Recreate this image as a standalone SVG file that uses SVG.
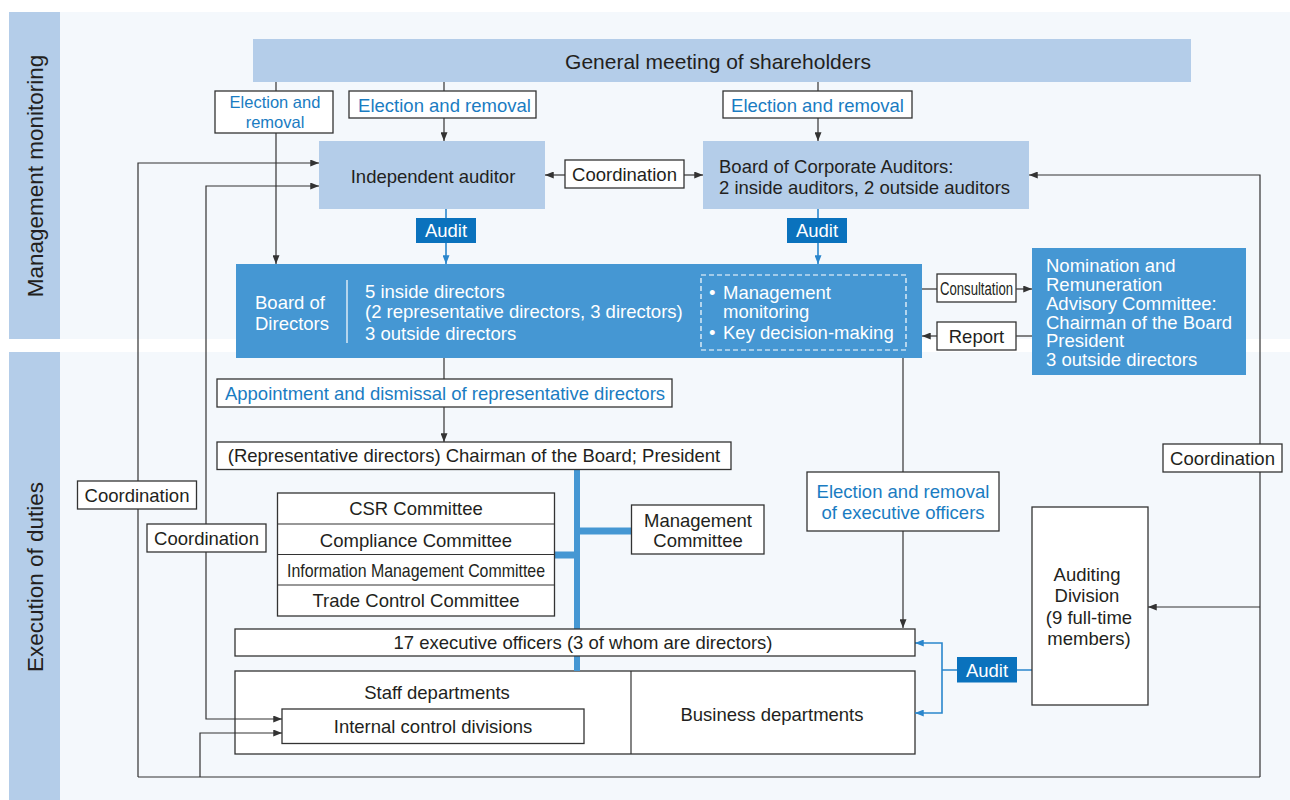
<svg xmlns="http://www.w3.org/2000/svg" width="1290" height="800" viewBox="0 0 1290 800">
<style>
text{font-family:"Liberation Sans",Arial,Helvetica,sans-serif;font-size:18.5px;fill:#231f20;dominant-baseline:central}
.c{text-anchor:middle}
.b{fill:#1a7cc2}
.w{fill:#ffffff}
.lt{fill:#b4cde9}
.md{fill:#4597d3}
.bx{fill:#ffffff;stroke:#333333;stroke-width:1.3}
.au{fill:#0a72bd}
.ln{fill:none;stroke:#333333;stroke-width:1.2}
.bl{fill:none;stroke:#2a86cc;stroke-width:1.6}
.tk{fill:none;stroke:#4597d3}
.side{font-size:22.5px}
</style>
<defs>
<marker id="ak" viewBox="0 0 10 8" refX="10" refY="4" markerWidth="9" markerHeight="7" markerUnits="userSpaceOnUse" orient="auto-start-reverse"><path d="M0,0 L10,4 L0,8 z" fill="#333333"/></marker>
<marker id="ab" viewBox="0 0 10 8" refX="10" refY="4" markerWidth="9" markerHeight="7" markerUnits="userSpaceOnUse" orient="auto-start-reverse"><path d="M0,0 L10,4 L0,8 z" fill="#2a86cc"/></marker>
</defs>
<rect x="0" y="0" width="1290" height="800" fill="#ffffff"/>
<rect x="60" y="12" width="1230" height="327" fill="#f4f8fc"/>
<rect x="60" y="352" width="1230" height="448" fill="#f4f8fc"/>
<g id="side-monitoring"><rect x="9" y="12" width="51" height="327" class="lt"/><text class="c side" transform="translate(35,176) rotate(-90)">Management monitoring</text></g>
<g id="side-execution"><rect x="9" y="352" width="51" height="448" class="lt"/><text class="c side" transform="translate(35,577) rotate(-90)">Execution of duties</text></g>

<g id="depts">
<rect x="235" y="671" width="680" height="83" class="bx"/>
<line x1="631" y1="671" x2="631" y2="754" class="ln"/>
<text class="c" x="437" y="692.5">Staff departments</text>
<text class="c" x="772" y="714">Business departments</text>
</g>
<g id="icd"><rect x="282" y="709" width="302" height="34.5" class="bx"/><text class="c" x="433" y="726">Internal control divisions</text></g>

<g id="connectors">
<path class="ln" d="M276,82 V264" marker-end="url(#ak)"/>
<path class="ln" d="M444,82 V141" marker-end="url(#ak)"/>
<path class="ln" d="M818,82 V141" marker-end="url(#ak)"/>
<path class="ln" d="M565,175 H545" marker-end="url(#ak)"/>
<path class="ln" d="M684,175 H703" marker-end="url(#ak)"/>
<path class="ln" d="M1260,777 V175 H1029" marker-end="url(#ak)"/>
<path class="ln" d="M1260,607 H1148" marker-end="url(#ak)"/>
<path class="ln" d="M138,777 H1260"/>
<path class="ln" d="M138,777 V163 H319" marker-end="url(#ak)"/>
<path class="ln" d="M282,719 H206 V186 H319" marker-start="url(#ak)" marker-end="url(#ak)"/>
<path class="ln" d="M200,777 V733 H282" marker-end="url(#ak)"/>
<path class="ln" d="M444,358 V442" marker-end="url(#ak)"/>
<path class="ln" d="M903,358 V628" marker-end="url(#ak)"/>
<path class="ln" d="M922,289 H937"/>
<path class="ln" d="M1016,289 H1032" marker-end="url(#ak)"/>
<path class="ln" d="M1032,336 H1016"/>
<path class="ln" d="M937,336 H922" marker-end="url(#ak)"/>
<path class="bl" d="M446,209 V264" marker-end="url(#ab)"/>
<path class="bl" d="M818,209 V264" marker-end="url(#ab)"/>
<path class="bl" d="M1032,670 H942"/>
<path class="bl" d="M915,643 H942 V713 H915" marker-start="url(#ab)" marker-end="url(#ab)"/>
<path class="tk" stroke-width="6" d="M577,469 V671"/>
<path class="tk" stroke-width="7" d="M577,531 H632"/>
<path class="tk" stroke-width="7" d="M554,555 H577"/>
</g>

<g id="gm"><rect x="253" y="39" width="938" height="43" class="lt"/><text class="c" x="718" y="61" style="font-size:21px">General meeting of shareholders</text></g>
<g id="lbl-er1"><rect x="215" y="91" width="118" height="42" class="bx"/><text class="c b" x="275" y="102" style="font-size:16.5px">Election and</text><text class="c b" x="275" y="121.5" style="font-size:16.5px">removal</text></g>
<g id="lbl-er2"><rect x="349" y="91" width="187" height="27" class="bx"/><text class="c b" x="444.5" y="105">Election and removal</text></g>
<g id="lbl-er3"><rect x="723" y="91" width="189" height="27" class="bx"/><text class="c b" x="817.5" y="105">Election and removal</text></g>
<g id="ia"><rect x="319" y="141" width="226" height="68" class="lt"/><text class="c" x="433" y="176">Independent auditor</text></g>
<g id="bca"><rect x="703" y="141" width="326" height="68" class="lt"/><text x="719" y="166">Board of Corporate Auditors:</text><text x="719" y="187">2 inside auditors, 2 outside auditors</text></g>
<g id="lbl-coord-top"><rect x="565" y="160" width="119" height="28" class="bx"/><text class="c" x="624.5" y="174">Coordination</text></g>
<g id="audit1"><rect x="416" y="218" width="60" height="25" class="au"/><text class="c w" x="446" y="230.5">Audit</text></g>
<g id="audit2"><rect x="787" y="218" width="60" height="25" class="au"/><text class="c w" x="817" y="230.5">Audit</text></g>
<g id="bod">
<rect x="236" y="264" width="686" height="94" class="md"/>
<text class="w" x="255" y="302">Board of</text><text class="w" x="255" y="323">Directors</text>
<line x1="347" y1="280" x2="347" y2="343" stroke="#ffffff" stroke-width="1.2"/>
<text class="w" x="365" y="291">5 inside directors</text>
<text class="w" x="365" y="311">(2 representative directors, 3 directors)</text>
<text class="w" x="365" y="333.5">3 outside directors</text>
<rect x="701" y="275" width="205" height="75" fill="none" stroke="#ffffff" stroke-width="1.2" stroke-dasharray="5 3"/>
<text class="w" x="709" y="292">•</text><text class="w" x="723" y="292">Management</text>
<text class="w" x="723" y="311">monitoring</text>
<text class="w" x="709" y="332">•</text><text class="w" x="723" y="332">Key decision-making</text>
</g>
<g id="lbl-consult"><rect x="937" y="274" width="79" height="28" class="bx"/><text class="c" x="976.5" y="288.5" textLength="73" lengthAdjust="spacingAndGlyphs" style="font-size:17.5px">Consultation</text></g>
<g id="lbl-report"><rect x="937" y="322" width="79" height="28" class="bx"/><text class="c" x="976.5" y="336.5">Report</text></g>
<g id="nrc">
<rect x="1032" y="248" width="214" height="127" class="md"/>
<text class="w" x="1046" y="265.5">Nomination and</text>
<text class="w" x="1046" y="284.5">Remuneration</text>
<text class="w" x="1046" y="303.5">Advisory Committee:</text>
<text class="w" x="1046" y="322">Chairman of the Board</text>
<text class="w" x="1046" y="340.5">President</text>
<text class="w" x="1046" y="359.5">3 outside directors</text>
</g>
<g id="lbl-appoint"><rect x="217" y="379" width="455" height="28" class="bx"/><text class="c b" x="445" y="393">Appointment and dismissal of representative directors</text></g>
<g id="chair"><rect x="217" y="442" width="514" height="27.5" class="bx"/><text class="c" x="474" y="455.5">(Representative directors) Chairman of the Board; President</text></g>
<g id="committees">
<rect x="277.5" y="493" width="277" height="123" class="bx"/>
<line x1="277.5" y1="524" x2="554.5" y2="524" class="ln"/>
<line x1="277.5" y1="554.5" x2="554.5" y2="554.5" class="ln"/>
<line x1="277.5" y1="585" x2="554.5" y2="585" class="ln"/>
<text class="c" x="416" y="508.5">CSR Committee</text>
<text class="c" x="416" y="540.5">Compliance Committee</text>
<text class="c" x="416" y="570" textLength="258" lengthAdjust="spacingAndGlyphs">Information Management Committee</text>
<text class="c" x="416" y="600.5">Trade Control Committee</text>
</g>
<g id="mgmt"><rect x="631.5" y="505" width="132.5" height="49" class="bx"/><text class="c" x="698" y="520">Management</text><text class="c" x="698" y="540">Committee</text></g>
<g id="exec"><rect x="235" y="629" width="680" height="27" class="bx"/><text class="c" x="583" y="642.5">17 executive officers (3 of whom are directors)</text></g>
<g id="lbl-coord-l1"><rect x="77.5" y="481" width="119" height="28" class="bx"/><text class="c" x="137" y="495">Coordination</text></g>
<g id="lbl-coord-l2"><rect x="147" y="524" width="119" height="28" class="bx"/><text class="c" x="206.5" y="538">Coordination</text></g>
<g id="lbl-coord-r"><rect x="1163" y="444" width="119" height="28" class="bx"/><text class="c" x="1222.5" y="458">Coordination</text></g>
<g id="lbl-eo"><rect x="807" y="472" width="192" height="59" class="bx"/><text class="c b" x="903" y="491.5">Election and removal</text><text class="c b" x="903" y="512.5">of executive officers</text></g>
<g id="ad"><rect x="1032" y="507" width="116" height="198" class="bx"/>
<text class="c" x="1087" y="574">Auditing</text><text class="c" x="1087" y="595">Division</text><text class="c" x="1089" y="617">(9 full-time</text><text class="c" x="1089" y="638">members)</text></g>
<g id="audit3"><rect x="957" y="657" width="60" height="25.5" class="au"/><text class="c w" x="987" y="670">Audit</text></g>
</svg>
